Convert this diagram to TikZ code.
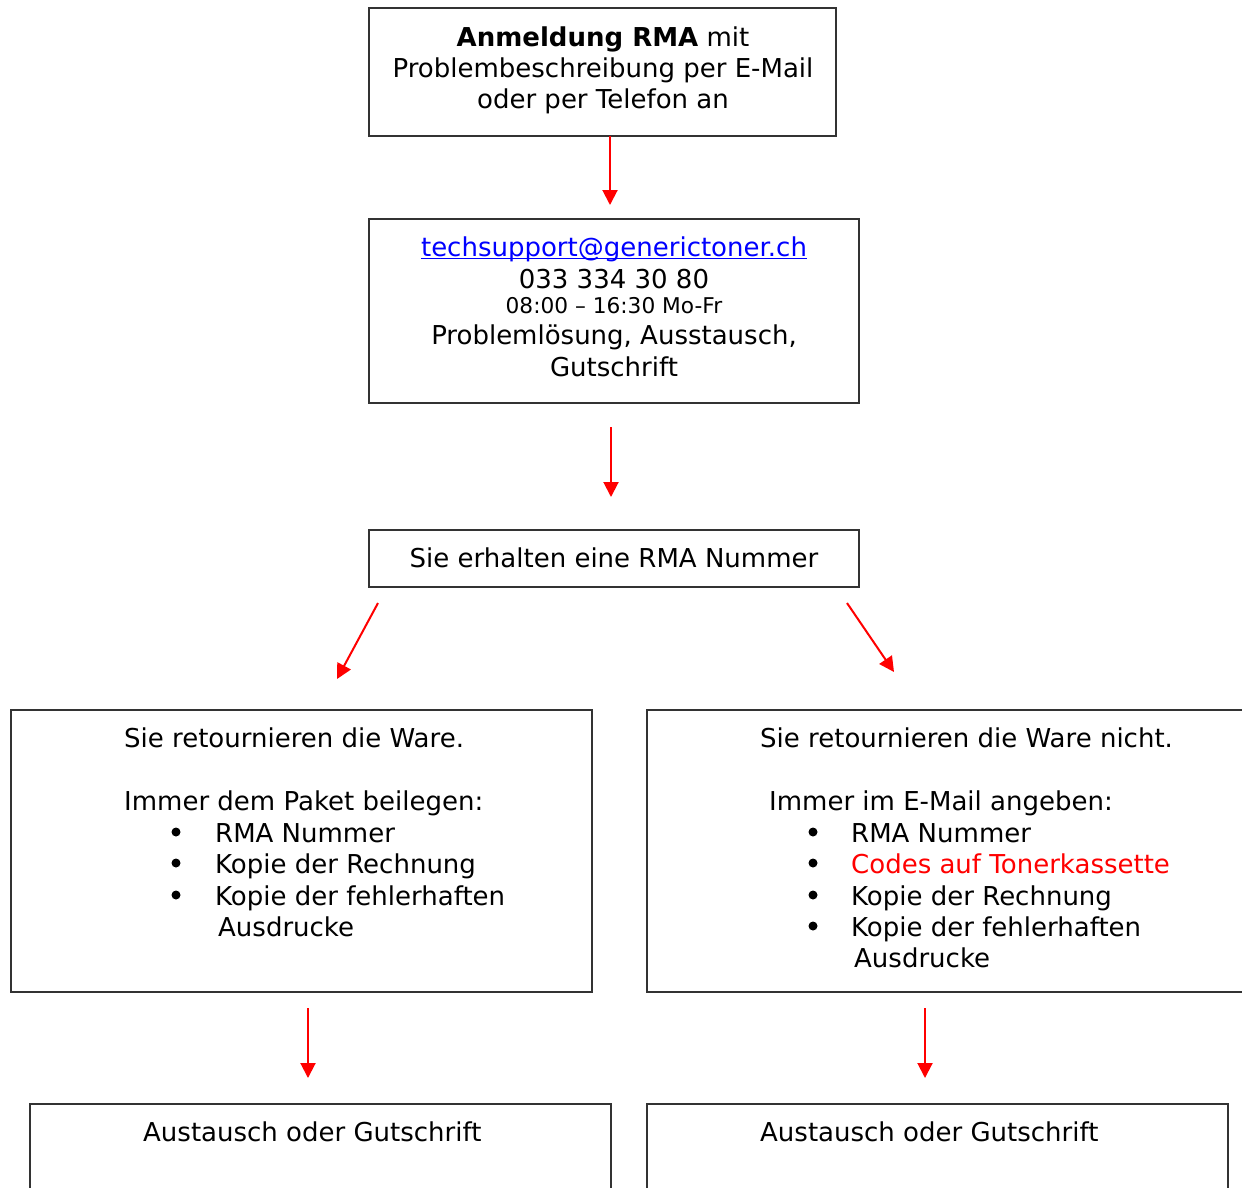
\documentclass[tikz,border=0pt]{standalone}
\usepackage{fontspec}
\setmainfont{DejaVu Sans}
\usetikzlibrary{arrows.meta}

\begin{document}
\begin{tikzpicture}[x=1pt,y=-1pt,
    box/.style={draw=black!80, line width=1.2pt, inner sep=0pt, outer sep=0pt},
    txt/.style={font=\fontsize{26}{31}\selectfont, inner sep=0pt, anchor=base},
    ltxt/.style={txt, anchor=base west},
    smalltxt/.style={txt, font=\fontsize{21.7}{26}\selectfont},
    dot/.style={circle, fill=black, inner sep=0pt, minimum size=9pt},
    arr/.style={draw=red, line width=2pt, -{Triangle[length=15pt,width=15pt]}}]
    \useasboundingbox (0,0) rectangle (1242,1187);
    \clip (0,0) rectangle (1242,1187);
    % boxes
    \node[box, minimum width=467pt, minimum height=128pt] (reg) at (602.5,72) {};
    \node[box, minimum width=490pt, minimum height=184pt] (info) at (614,311) {};
    \node[box, minimum width=490pt, minimum height=57pt] (rma) at (614,558.5) {};
    \node[box, minimum width=581pt, minimum height=282pt] (ret) at (301.5,851) {};
    \node[box, minimum width=600pt, minimum height=282pt] (nret) at (947,851) {};
    \node[box, minimum width=581pt, minimum height=116pt] (res1) at (320.5,1162) {};
    \node[box, minimum width=581pt, minimum height=116pt] (res2) at (937.5,1162) {};
    % registration
    \node[txt] (reg1) at (603,46) {\textbf{Anmeldung RMA} mit};
    \node[txt] (reg2) at (603,77) {Problembeschreibung per E-Mail};
    \node[txt] (reg3) at (603,108) {oder per Telefon an};
    % contact
    \node[txt, text=blue] (mail) at (614,256) {techsupport@generictoner.ch};
    \draw[blue, line width=1.5pt] ([yshift=-2.5pt]mail.base west) -- ([yshift=-2.5pt]mail.base east);
    \node[txt] (phone) at (614,288) {033 334 30 80};
    \node[smalltxt] (hours) at (614,313) {08:00 – 16:30 Mo-Fr};
    \node[txt] (sol1) at (614,344) {Problemlösung, Ausstausch,};
    \node[txt] (sol2) at (614,376) {Gutschrift};
    \node[txt] (num) at (614,567) {Sie erhalten eine RMA Nummer};
    % return
    \node[ltxt] (ret1) at (124,747) {Sie retournieren die Ware.};
    \node[ltxt] (ret2) at (124,810) {Immer dem Paket beilegen:};
    \foreach \y/\n in {832/a, 863/b, 895/c}
        \node[dot] (retb\n) at (176,\y) {};
    \node[ltxt] (reta) at (215,842) {RMA Nummer};
    \node[ltxt] (retb) at (215,873) {Kopie der Rechnung};
    \node[ltxt] (retc) at (215,905) {Kopie der fehlerhaften};
    \node[ltxt] (retd) at (218,936) {Ausdrucke};
    % no return
    \node[ltxt] (nret1) at (760,747) {Sie retournieren die Ware nicht.};
    \node[ltxt] (nret2) at (769,810) {Immer im E-Mail angeben:};
    \foreach \y/\n in {832/a, 863/b, 895/c, 926/d}
        \node[dot] (nretb\n) at (813,\y) {};
    \node[ltxt] (nreta) at (851,842) {RMA Nummer};
    \node[ltxt, text=red] (nretb) at (851,873) {Codes auf Tonerkassette};
    \node[ltxt] (nretc) at (851,905) {Kopie der Rechnung};
    \node[ltxt] (nretd) at (851,936) {Kopie der fehlerhaften};
    \node[ltxt] (nrete) at (854,967) {Ausdrucke};
    % results
    \node[ltxt] (res1t) at (143,1141) {Austausch oder Gutschrift};
    \node[ltxt] (res2t) at (760,1141) {Austausch oder Gutschrift};
    % arrows
    \draw[arr, shorten >=14pt] ([xshift=7.5pt]reg.south) -- ([xshift=-4pt]info.north);
    \draw[arr, shorten <=24pt, shorten >=33pt] ([xshift=-3pt]info.south) -- ([xshift=-3pt]rma.north);
    \draw[arr] ([xshift=9pt,yshift=-16pt]rma.south west) -- ([xshift=35.5pt,yshift=31pt]ret.north);
    \draw[arr] ([xshift=-12pt,yshift=-16pt]rma.south east) -- ([xshift=247pt,yshift=38pt]nret.north west);
    \draw[arr, shorten <=16pt, shorten >=26pt] ([xshift=6.5pt]ret.south) -- ([xshift=-12.5pt]res1.north);
    \draw[arr, shorten <=16pt, shorten >=26pt] ([xshift=278pt]nret.south west) -- ([xshift=-12.5pt]res2.north);
\end{tikzpicture}
\end{document}
